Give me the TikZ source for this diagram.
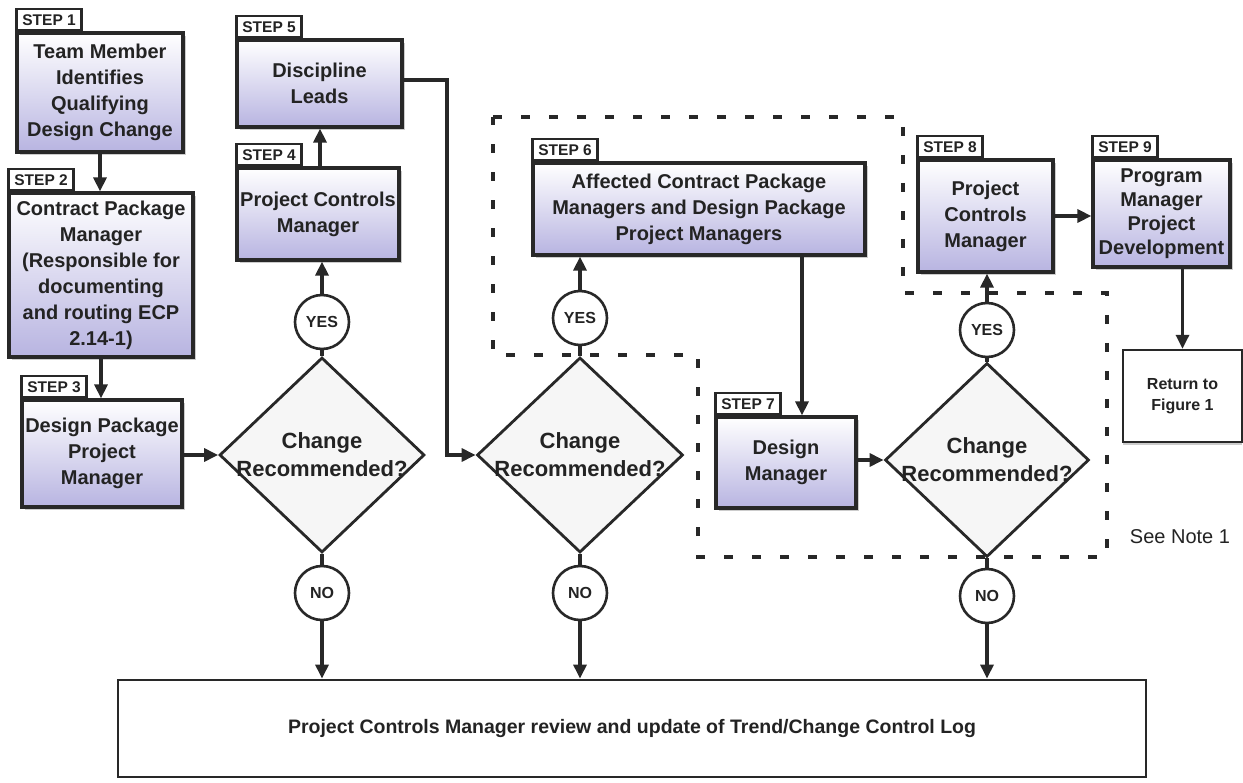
\documentclass[tikz,border=0pt]{standalone}
\usepackage{fontspec}
\setmainfont{Liberation Sans}
\usetikzlibrary{arrows.meta,shapes.geometric,shadows,calc}
\definecolor{ink}{RGB}{40,40,40}
\definecolor{lav}{RGB}{160,155,215}
\definecolor{txt}{RGB}{35,35,35}
\begin{document}
\begin{tikzpicture}[x=1pt,y=-1pt,
  box/.style={draw=ink, line width=3.2pt, top color=white, middle color=gray!5, bottom color=lav!75,
    align=center, font=\fontsize{20}{26}\selectfont\bfseries, text=txt, inner sep=1pt,
    drop shadow={shadow xshift=3pt,shadow yshift=-3pt,fill=gray,opacity=0.4}},
  steplab/.style={draw=ink, line width=2.4pt, fill=white, anchor=south west, minimum width=65pt,
    minimum height=21pt, inner sep=1pt, font=\fontsize{15.5}{15.5}\selectfont\bfseries, text=txt},
  dia/.style={draw=ink, line width=2.8pt, diamond, fill=gray!7, inner sep=-16pt,
    align=center, font=\fontsize{22}{28}\selectfont\bfseries, text=txt},
  yn/.style={draw=ink, line width=2.6pt, circle, fill=white, minimum size=54pt, inner sep=0pt,
    font=\fontsize{16}{16}\selectfont\bfseries, text=txt},
  arr/.style={draw=ink, line width=3.2pt, -{Triangle[length=14pt,width=13pt]}},
  conn/.style={draw=ink, line width=3.2pt},
  region/.style={draw=ink, line width=3.5pt, dash pattern=on 9pt off 19pt}
]
\useasboundingbox (0,0) rectangle (1243,783);

% dashed region
\draw[region] (493,117) -- (903,117) -- (903,293) -- (1107,293) -- (1107,557)
  -- (698,557) -- (698,355) -- (493,355) -- cycle;

% step boxes
\node[box, minimum width=166pt, minimum height=119pt] (s1) at (100,92.5)
  {Team Member\\Identifies\\Qualifying\\Design Change};
\node[steplab] (l1) at (s1.north west) {STEP 1};

\node[box, minimum width=184pt, minimum height=164pt] (s2) at (101,275)
  {Contract Package\\Manager\\(Responsible for\\documenting\\and routing ECP\\2.14-1)};
\node[steplab] (l2) at (s2.north west) {STEP 2};

\node[box, minimum width=160pt, minimum height=107pt] (s3) at (102,453.5)
  {Design Package\\Project\\Manager};
\node[steplab] (l3) at (s3.north west) {STEP 3};

\node[box, minimum width=162pt, minimum height=92pt] (s4) at (318,214)
  {Project Controls\\Manager};
\node[steplab] (l4) at (s4.north west) {STEP 4};

\node[box, minimum width=165pt, minimum height=87pt] (s5) at (319.5,83.5)
  {Discipline\\Leads};
\node[steplab] (l5) at (s5.north west) {STEP 5};

\node[box, minimum width=332pt, minimum height=92pt] (s6) at (699,209)
  {Affected Contract Package\\Managers and Design Package\\Project Managers};
\node[steplab] (l6) at (s6.north west) {STEP 6};

\node[box, minimum width=140pt, minimum height=91pt] (s7) at (786,462.5)
  {Design\\Manager};
\node[steplab] (l7) at (s7.north west) {STEP 7};

\node[box, minimum width=135pt, minimum height=112pt] (s8) at (985.5,216)
  {Project\\Controls\\Manager};
\node[steplab] (l8) at (s8.north west) {STEP 8};

\node[box, minimum width=137pt, minimum height=107pt, font=\fontsize{20}{24}\selectfont\bfseries] (s9) at (1161.5,213.5)
  {Program\\Manager\\Project\\Development};
\node[steplab] (l9) at (s9.north west) {STEP 9};

% return box
\node[draw=ink, line width=2.4pt, fill=white, minimum width=119pt, minimum height=92pt, align=center,
  font=\fontsize{16}{21}\selectfont\bfseries, text=txt,
  drop shadow={shadow xshift=0pt,shadow yshift=-3pt,fill=gray,opacity=0.4}] (ret) at (1182.5,396)
  {Return to\\Figure 1};

% decisions
\node[dia, minimum width=205pt, minimum height=195pt] (d1) at (322,455) {Change\\Recommended?};
\node[dia, minimum width=206pt, minimum height=195pt] (d2) at (580,455) {Change\\Recommended?};
\node[dia, minimum width=204pt, minimum height=194pt] (d3) at (987,460) {Change\\Recommended?};

\node[yn] (y1) at (322,322) {YES};
\node[yn] (y2) at (580,318) {YES};
\node[yn] (y3) at (987,330) {YES};
\node[yn] (n1) at (322,593) {NO};
\node[yn] (n2) at (580,593) {NO};
\node[yn] (n3) at (987,596) {NO};

% bottom box
\node[draw=ink, line width=2.8pt, fill=white, minimum width=1028pt, minimum height=97pt,
  font=\fontsize{19.5}{19.5}\selectfont\bfseries, text=txt] (bot) at (632,728.5)
  {Project Controls Manager review and update of Trend/Change Control Log};

\node[font=\fontsize{20}{20}\selectfont, text=txt] (note) at (1180,537) {See Note 1};

% helper coordinates
\coordinate (c45) at (320,0);
\coordinate (c5) at (447,0);
\coordinate (c67) at (802,0);
\coordinate (c5y) at (0,80);

% connectors
\draw[arr] (s1.south) -- (s1.south |- s2.north);
\draw[arr] (s2.south) -- (s2.south |- s3.north);
\draw[arr] (s3.east |- d1.west) -- (d1.west);
\draw[conn] (d1.north) -- (y1.south);
\draw[arr] (y1.north) -- (y1.north |- s4.south);
\draw[arr] (s4.north -| c45) -- (s5.south -| c45);
\draw[conn] (d1.south) -- (n1.north);
\draw[arr] (n1.south) -- (n1.south |- bot.north);
\draw[arr] (s5.east |- c5y) -- (c5 |- c5y) -- (c5 |- d2.west) -- (d2.west);
\draw[conn] (d2.north) -- (y2.south);
\draw[arr] (y2.north) -- (y2.north |- s6.south);
\draw[conn] (d2.south) -- (n2.north);
\draw[arr] (n2.south) -- (n2.south |- bot.north);
\draw[arr] (s6.south -| c67) -- (s7.north -| c67);
\draw[arr] (s7.east |- d3.west) -- (d3.west);
\draw[conn] (d3.north) -- (y3.south);
\draw[arr] (y3.north) -- (y3.north |- s8.south);
\draw[conn] (d3.south) -- (n3.north);
\draw[arr] (n3.south) -- (n3.south |- bot.north);
\draw[arr] (s8.east) -- (s8.east -| s9.west);
\draw[arr] (s9.south -| ret.north) -- (ret.north);
\end{tikzpicture}
\end{document}
